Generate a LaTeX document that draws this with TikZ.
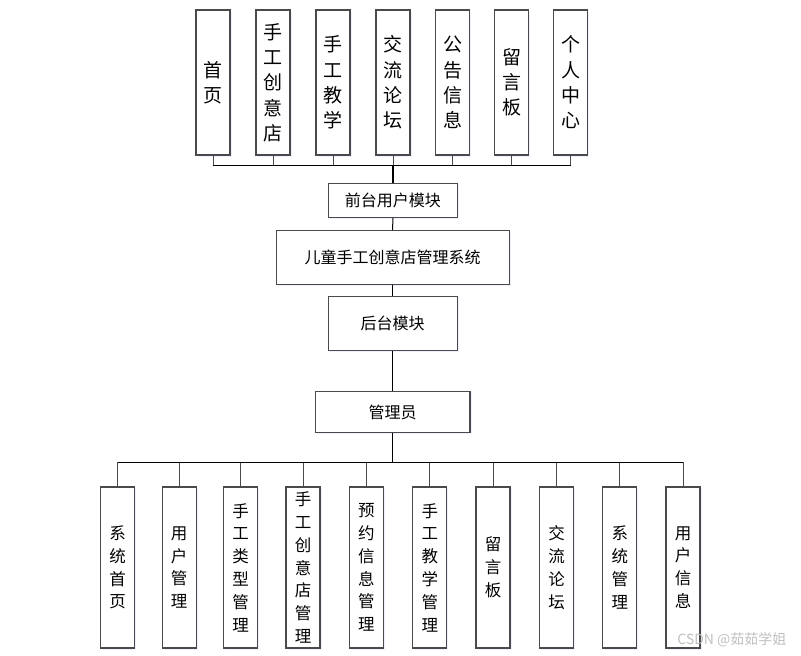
\documentclass[tikz,border=0pt]{standalone}
\usepackage{fontspec}
\setmainfont{Noto Sans CJK SC}
\usetikzlibrary{shadows}
\definecolor{boxline}{HTML}{4A4A4A}
\tikzset{
  sbox/.style={draw=boxline, line width=1.2pt, fill=white, inner sep=0pt,
    drop shadow={shadow xshift=1.5pt, shadow yshift=-1.5pt, opacity=0.25, fill=blue!25}},
  topbox/.style={sbox, minimum width=34pt, minimum height=145pt, align=center,
    font=\fontsize{19}{25.3}\selectfont},
  botbox/.style={sbox, minimum width=34pt, minimum height=161pt, align=center,
    font=\fontsize{16.5}{22.8}\selectfont},
  midbox/.style={sbox, font=\fontsize{16}{20}\selectfont},
  conn/.style={line width=1pt, draw=black},
  stub/.style={line width=1pt, draw=boxline}
}
\begin{document}
\begin{tikzpicture}[x=1pt,y=-1pt]
\useasboundingbox (0,0) rectangle (801,656);
% top row
\node[topbox] (t1) at (213,82.5) {首\\页};
\node[topbox] (t2) at (273,82.5) {手\\工\\创\\意\\店};
\node[topbox] (t3) at (333,82.5) {手\\工\\教\\学};
\node[topbox] (t4) at (393,82.5) {交\\流\\论\\坛};
\node[topbox] (t5) at (452.7,82.5) {公\\告\\信\\息};
\node[topbox] (t6) at (511.8,82.5) {留\\言\\板};
\node[topbox] (t7) at (570.7,82.5) {个\\人\\中\\心};
% middle
\node[midbox, minimum width=129pt, minimum height=34pt] (front) at (392.8,200.3) {前台用户模块};
\node[midbox, minimum width=233pt, minimum height=53.6pt] (sys) at (392.7,257.5) {儿童手工创意店管理系统};
\node[midbox, minimum width=129pt, minimum height=54pt] (back) at (392.7,323.7) {后台模块};
\node[midbox, minimum width=154.7pt, minimum height=41pt] (admin) at (392.7,412.2) {管理员};
% bottom row
\node[botbox] (b1) at (117.7,567.5) {系\\统\\首\\页};
\node[botbox] (b2) at (179.2,567.5) {用\\户\\管\\理};
\node[botbox] (b3) at (240.7,567.5) {手\\工\\类\\型\\管\\理};
\node[botbox] (b4) at (303,567.5) {手\\工\\创\\意\\店\\管\\理};
\node[botbox] (b5) at (366.3,567.5) {预\\约\\信\\息\\管\\理};
\node[botbox] (b6) at (429.8,567.5) {手\\工\\教\\学\\管\\理};
\node[botbox] (b7) at (493,567.5) {留\\言\\板};
\node[botbox] (b8) at (556.5,567.5) {交\\流\\论\\坛};
\node[botbox] (b9) at (619.8,567.5) {系\\统\\管\\理};
\node[botbox] (b10) at (683,567.5) {用\\户\\信\\息};
% connectors
\coordinate (bus1) at (392.8,165);
\coordinate (bus2) at (392.7,462.3);
\foreach \i in {1,...,7} { \draw[stub] (t\i.south) |- (bus1); }
\draw[conn] (t1.south |- bus1) -- (t7.south |- bus1);
\draw[conn, line width=1.6pt] (bus1) -- (front.north);
\draw[conn] (front.south) -- (sys.north);
\draw[conn] (sys.south) -- (back.north);
\draw[conn] (back.south) -- (admin.north);
\draw[conn] (admin.south) -- (bus2);
\foreach \i in {1,...,10} { \draw[stub] (b\i.north) |- (bus2); }
\draw[conn] (b1.north |- bus2) -- (b10.north |- bus2);
% watermark
\node[text=black!25, font=\fontsize{14}{16}\selectfont, anchor=east] (wm) at (790,640) {CSDN @茹茹学姐};
\end{tikzpicture}
\end{document}
